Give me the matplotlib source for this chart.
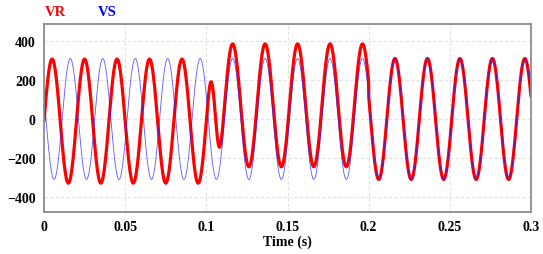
import numpy as np
import matplotlib
matplotlib.use('Agg')
import matplotlib.pyplot as plt

# waveform settings (50 Hz, 0..0.3 s)
freq = 50
t_end = 0.3
vs_amp = 310
vs_phase = 2.76          # rad, VS at t=0 is about +115 and falling

# VR segments: (start, amplitude, phase, offset)
vr_seg_start = [0.0, 0.1005, 0.2]
vr_seg_amp = [318, 315, 310]
vr_seg_phase = [0.0, 2.76, 2.76]
vr_seg_offset = [-11, 70, 0]
vr_blend_end = 0.1103    # end of the switching transient

xticks = [0, 0.05, 0.1, 0.15, 0.2, 0.25, 0.3]
xticklabels = ['0', '0.05', '0.1', '0.15', '0.2', '0.25', '0.3']
yticks = [-400, -200, 0, 200, 400]

t = np.linspace(0, t_end, 6000)
w = 2 * np.pi * freq
vs = vs_amp * np.sin(w * t + vs_phase)


def seg(i):
    return vr_seg_amp[i] * np.sin(w * t + vr_seg_phase[i]) + vr_seg_offset[i]


x = np.clip((t - vr_seg_start[1]) / (vr_blend_end - vr_seg_start[1]), 0, 1)
k = 3 * x**2 - 2 * x**3
vr = (1 - k) * seg(0) + k * seg(1)
vr = np.where(t >= vr_seg_start[2], seg(2), vr)

plt.rcParams['font.family'] = ['Liberation Serif', 'DejaVu Serif']
plt.rcParams['font.weight'] = 'bold'

fig = plt.figure(figsize=(5.43, 2.55), dpi=100)
ax = fig.add_axes([44 / 543, 42 / 255, 487 / 543, 188 / 255])

ax.plot(t, vr, color='#ff0000', lw=2.3, solid_capstyle='round')
ax.plot(t, vs, color='#2222ff', lw=0.6, alpha=0.75)

ax.set_xlim(0, t_end)
ax.set_ylim(-477, 487)
ax.set_xticks(xticks)
ax.set_xticklabels(xticklabels)
ax.set_yticks(yticks)
ax.tick_params(length=0, labelsize=10, pad=6)
for lab in ax.get_xticklabels() + ax.get_yticklabels():
    lab.set_fontweight('bold')
ax.grid(True, color='#e2e2e2', lw=0.8, ls=(0, (3, 2)))
ax.set_axisbelow(True)
for s in ax.spines.values():
    s.set_color('#8c8c8c')
    s.set_linewidth(1.3)

ax.set_xlabel('Time (s)', fontsize=10, fontweight='bold', labelpad=1)

fig.text(45 / 543, 1 - 12 / 255, 'VR', color='#ff0000', fontsize=10.5,
         fontweight='bold', va='center', ha='left')
fig.text(98 / 543, 1 - 12 / 255, 'VS', color='#0000ff', fontsize=10.5,
         fontweight='bold', va='center', ha='left')

fig.savefig('out.png', dpi=100)
